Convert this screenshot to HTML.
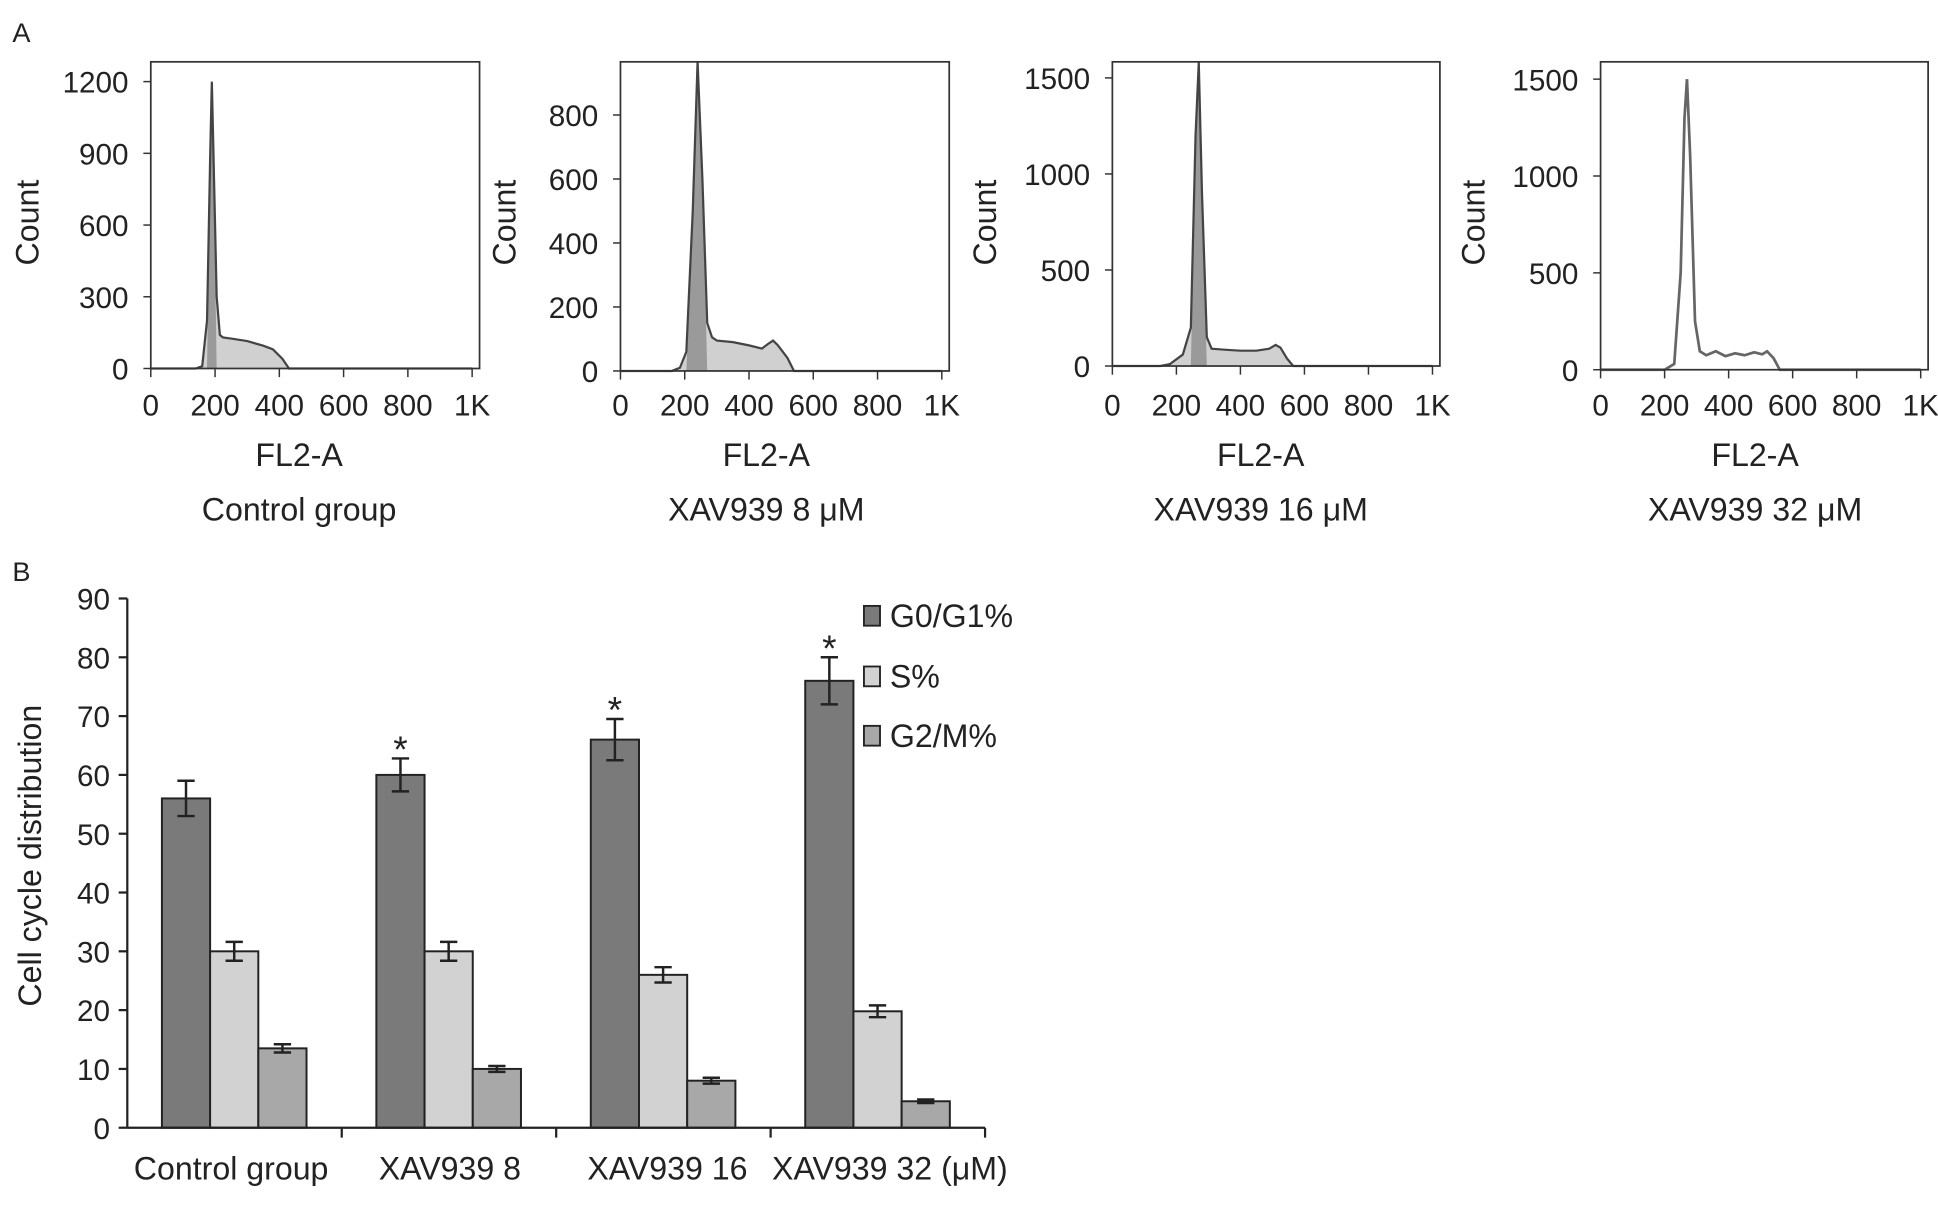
<!DOCTYPE html>
<html><head><meta charset="utf-8"><style>
html,body{margin:0;padding:0;background:#fff;}
svg{display:block;font-family:"Liberation Sans",Arial,sans-serif;}
</style></head><body>
<svg id="fig" width="1938" height="1218" viewBox="0 0 1568 985" preserveAspectRatio="none" xmlns="http://www.w3.org/2000/svg">
<rect width="1568" height="985" fill="#fff"/>
<text x="10" y="34" font-size="22" fill="#222">A</text>
<text x="10" y="470" font-size="22" fill="#222">B</text>
<g id="panelA"></g>
<g id="panelB"></g>
</svg>
<script>
const NS='http://www.w3.org/2000/svg';
function mk(parent,tag,attrs,text){const e=document.createElementNS(NS,tag);for(const k in attrs)e.setAttribute(k,attrs[k]);if(text!==undefined)e.textContent=text;parent.appendChild(e);return e;}

// ---------- Panel A data ----------
const histTitles=['Control group','XAV939 8 \u03bcM','XAV939 16 \u03bcM','XAV939 32 \u03bcM'];
const histYTicks=[[0,300,600,900,1200],[0,200,400,600,800],[0,500,1000,1500],[0,500,1000,1500]];
const xTickLabels=['0','200','400','600','800','1K'];
const histX1=[0,140,160,175,185,190,195,205,215,225,250,300,350,380,410,430,1000];
const histC1=[0,0,10,200,900,1200,900,300,140,130,125,115,95,80,40,0,0];
const histX2=[0,160,185,205,225,240,255,270,285,300,350,400,440,460,475,490,520,540,1000];
const histC2=[0,0,10,60,500,980,600,150,105,95,90,80,70,85,95,80,40,0,0];
const histX3=[0,150,180,220,245,260,270,280,295,310,350,400,450,490,510,525,545,565,1000];
const histC3=[0,0,10,60,200,1200,1580,900,150,90,85,80,80,90,110,95,40,0,0];
const histX4=[0,200,230,250,262,270,280,295,310,330,360,390,420,450,480,505,520,540,560,1000];
const histC4=[0,0,30,500,1300,1500,1100,250,95,75,95,70,85,75,90,80,95,60,0,0];
const histXs=[histX1,histX2,histX3,histX4];
const histCs=[histC1,histC2,histC3,histC4];
const frames=[{l:122,r:388,t:50,b:298,cx:22,fx:242},{l:502,r:768,t:50,b:300,cx:408,fx:620},{l:900,r:1165,t:50,b:296,cx:797,fx:1020},{l:1295,r:1560,t:50,b:299,cx:1192,fx:1420}];
const yTop=[66,93,63,64];

const A=document.getElementById('panelA');
frames.forEach((f,i)=>{
  const g=mk(A,'g',{});
  
  
  const ticks=histYTicks[i];const tmax=ticks[ticks.length-1];
  const ys=v=>f.b-(v/tmax)*(f.b-yTop[i]);
  const xs=v=>f.l+(v/1000)*(f.r-6-f.l);
  const X=histXs[i],C=histCs[i];
  let d='M'+xs(X[0])+','+f.b;
  X.forEach((x,j)=>{d+=' L'+xs(x).toFixed(1)+','+Math.max(f.t,ys(C[j])).toFixed(1);});
  d+=' L'+xs(X[X.length-1])+','+f.b+' Z';
  const fill=mk(g,'path',{d:d,fill:i===3?'#fff':'#d0d0d0',stroke:'none'});
  
  
  const pk=C.indexOf(Math.max(...C));
  if(i<3){
    let d2='M'+xs(X[pk-2]).toFixed(1)+','+f.b+' L'+xs(X[pk-1]).toFixed(1)+','+ys(C[pk-1]).toFixed(1)+' L'+xs(X[pk]).toFixed(1)+','+Math.max(f.t,ys(C[pk])).toFixed(1)+' L'+xs(X[pk+1]).toFixed(1)+','+ys(C[pk+1]).toFixed(1)+' L'+xs(X[pk+2]).toFixed(1)+','+f.b+' Z';
    const pf=mk(g,'path',{d:d2,fill:'#9a9a9a',stroke:'none'});
    
    
  }
  let dl='';
  X.forEach((x,j)=>{dl+=(j?' L':'M')+xs(x).toFixed(1)+','+Math.max(f.t,ys(C[j])).toFixed(1);});
  const ln=mk(g,'path',{d:dl,fill:'none',stroke:i===3?'#666':'#444','stroke-width':i===3?2.2:1.8});
  
  
  const fr=mk(g,'rect',{x:f.l,y:f.t,width:f.r-f.l,height:f.b-f.t,fill:'none',stroke:'#333','stroke-width':1.4});
  
  
  ticks.forEach(v=>{
    mk(g,'line',{x1:f.l-6,x2:f.l,y1:ys(v),y2:ys(v),stroke:'#333','stroke-width':1.2});
    const t=mk(g,'text',{x:f.l-18,y:ys(v)+9,'font-size':24,'text-anchor':'end',fill:'#222'},String(v));
    
    
  });
  xTickLabels.forEach((lab,k)=>{
    const x=xs(k*200);
    mk(g,'line',{x1:x,x2:x,y1:f.b,y2:f.b+7,stroke:'#333','stroke-width':1.2});
    const t=mk(g,'text',{x:x,y:336,'font-size':24,'text-anchor':'middle',fill:'#222'},lab);
    
    
  });
  const ct=mk(g,'text',{x:0,y:0,'font-size':26,'text-anchor':'middle',fill:'#222',transform:'translate('+(f.cx+9)+','+(f.t+130)+') rotate(-90)'},'Count');
  
  
  const xt=mk(g,'text',{x:f.fx,y:377,'font-size':26,'text-anchor':'middle',fill:'#222'},'FL2-A');
  
  
  const tt=mk(g,'text',{x:f.fx,y:421,'font-size':26,'text-anchor':'middle',fill:'#222'},histTitles[i]);
  
  
});

// ---------- Panel B data ----------
const categories=['Control group','XAV939 8','XAV939 16','XAV939 32 (\u03bcM)'];
const seriesNames=['G0/G1%','S%','G2/M%'];
const g0g1=[56,60,66,76];
const g0g1Err=[3,2.8,3.5,4];
const sPhase=[30,30,26,19.8];
const sPhaseErr=[1.6,1.6,1.3,1];
const g2m=[13.5,10,8,4.5];
const g2mErr=[0.7,0.5,0.5,0.3];
const significant=[false,true,true,true];
const yTicksB=[0,10,20,30,40,50,60,70,80,90];

const B=document.getElementById('panelB');
const ax={l:103,r:797,b:912,t:484,max:90};
const yB=v=>ax.b-(v/ax.max)*(ax.b-ax.t);
const groupW=(ax.r-ax.l)/categories.length;
const barW=39;
const xB=(ci,si)=>ax.l+ci*groupW+28+si*barW;
const colors=['#7a7a7a','#d2d2d2','#a8a8a8'];
const vals=[g0g1,sPhase,g2m],errs=[g0g1Err,sPhaseErr,g2mErr];
vals.forEach((arr,si)=>{
  arr.forEach((v,ci)=>{
    const x=xB(ci,si);
    const r=mk(B,'rect',{x:x,y:yB(v),width:barW,height:ax.b-yB(v),fill:colors[si],stroke:'#222','stroke-width':1.6});
    
    
    const e=errs[si][ci],cx=x+barW/2;
    const eg=mk(B,'g',{stroke:'#222','stroke-width':2});
    
    
    mk(eg,'line',{x1:cx,x2:cx,y1:yB(v+e),y2:yB(v-e)});
    mk(eg,'line',{x1:cx-7,x2:cx+7,y1:yB(v+e),y2:yB(v+e)});
    mk(eg,'line',{x1:cx-7,x2:cx+7,y1:yB(v-e),y2:yB(v-e)});
    if(si===0&&significant[ci]){
      const st=mk(B,'text',{x:cx,y:yB(v+e)+3,'font-size':30,'text-anchor':'middle',fill:'#222'},'*');
      
      
    }
  });
});
const axg=mk(B,'g',{stroke:'#222','stroke-width':1.8});


mk(axg,'line',{x1:ax.l,x2:ax.l,y1:ax.t,y2:ax.b});
mk(axg,'line',{x1:ax.l,x2:ax.r,y1:ax.b,y2:ax.b});
yTicksB.forEach(v=>{
  mk(axg,'line',{x1:ax.l-7,x2:ax.l,y1:yB(v),y2:yB(v)});
  const t=mk(B,'text',{x:ax.l-14,y:yB(v)+9,'font-size':24,'text-anchor':'end',fill:'#222'},String(v));
  
  
});
for(let i=1;i<=categories.length;i++){const x=ax.l+i*groupW;mk(axg,'line',{x1:x,x2:x,y1:ax.b,y2:ax.b+8});}
const catX=[187,364,540,720];
categories.forEach((c,i)=>{
  const t=mk(B,'text',{x:catX[i],y:954,'font-size':26,'text-anchor':'middle',fill:'#222'},c);
  
  
});
const yt=mk(B,'text',{x:0,y:0,'font-size':26,'text-anchor':'middle',fill:'#222',transform:'translate(33,692) rotate(-90)'},'Cell cycle distribution');


const legY=[498,547,595];
seriesNames.forEach((n,i)=>{
  const lg=mk(B,'g',{});
  
  
  mk(lg,'rect',{x:699,y:legY[i]-8,width:13,height:16,fill:colors[i],stroke:'#222','stroke-width':1.5});
  mk(lg,'text',{x:720,y:legY[i]+9,'font-size':26,fill:'#222'},n);
});
</script>
</body></html>
